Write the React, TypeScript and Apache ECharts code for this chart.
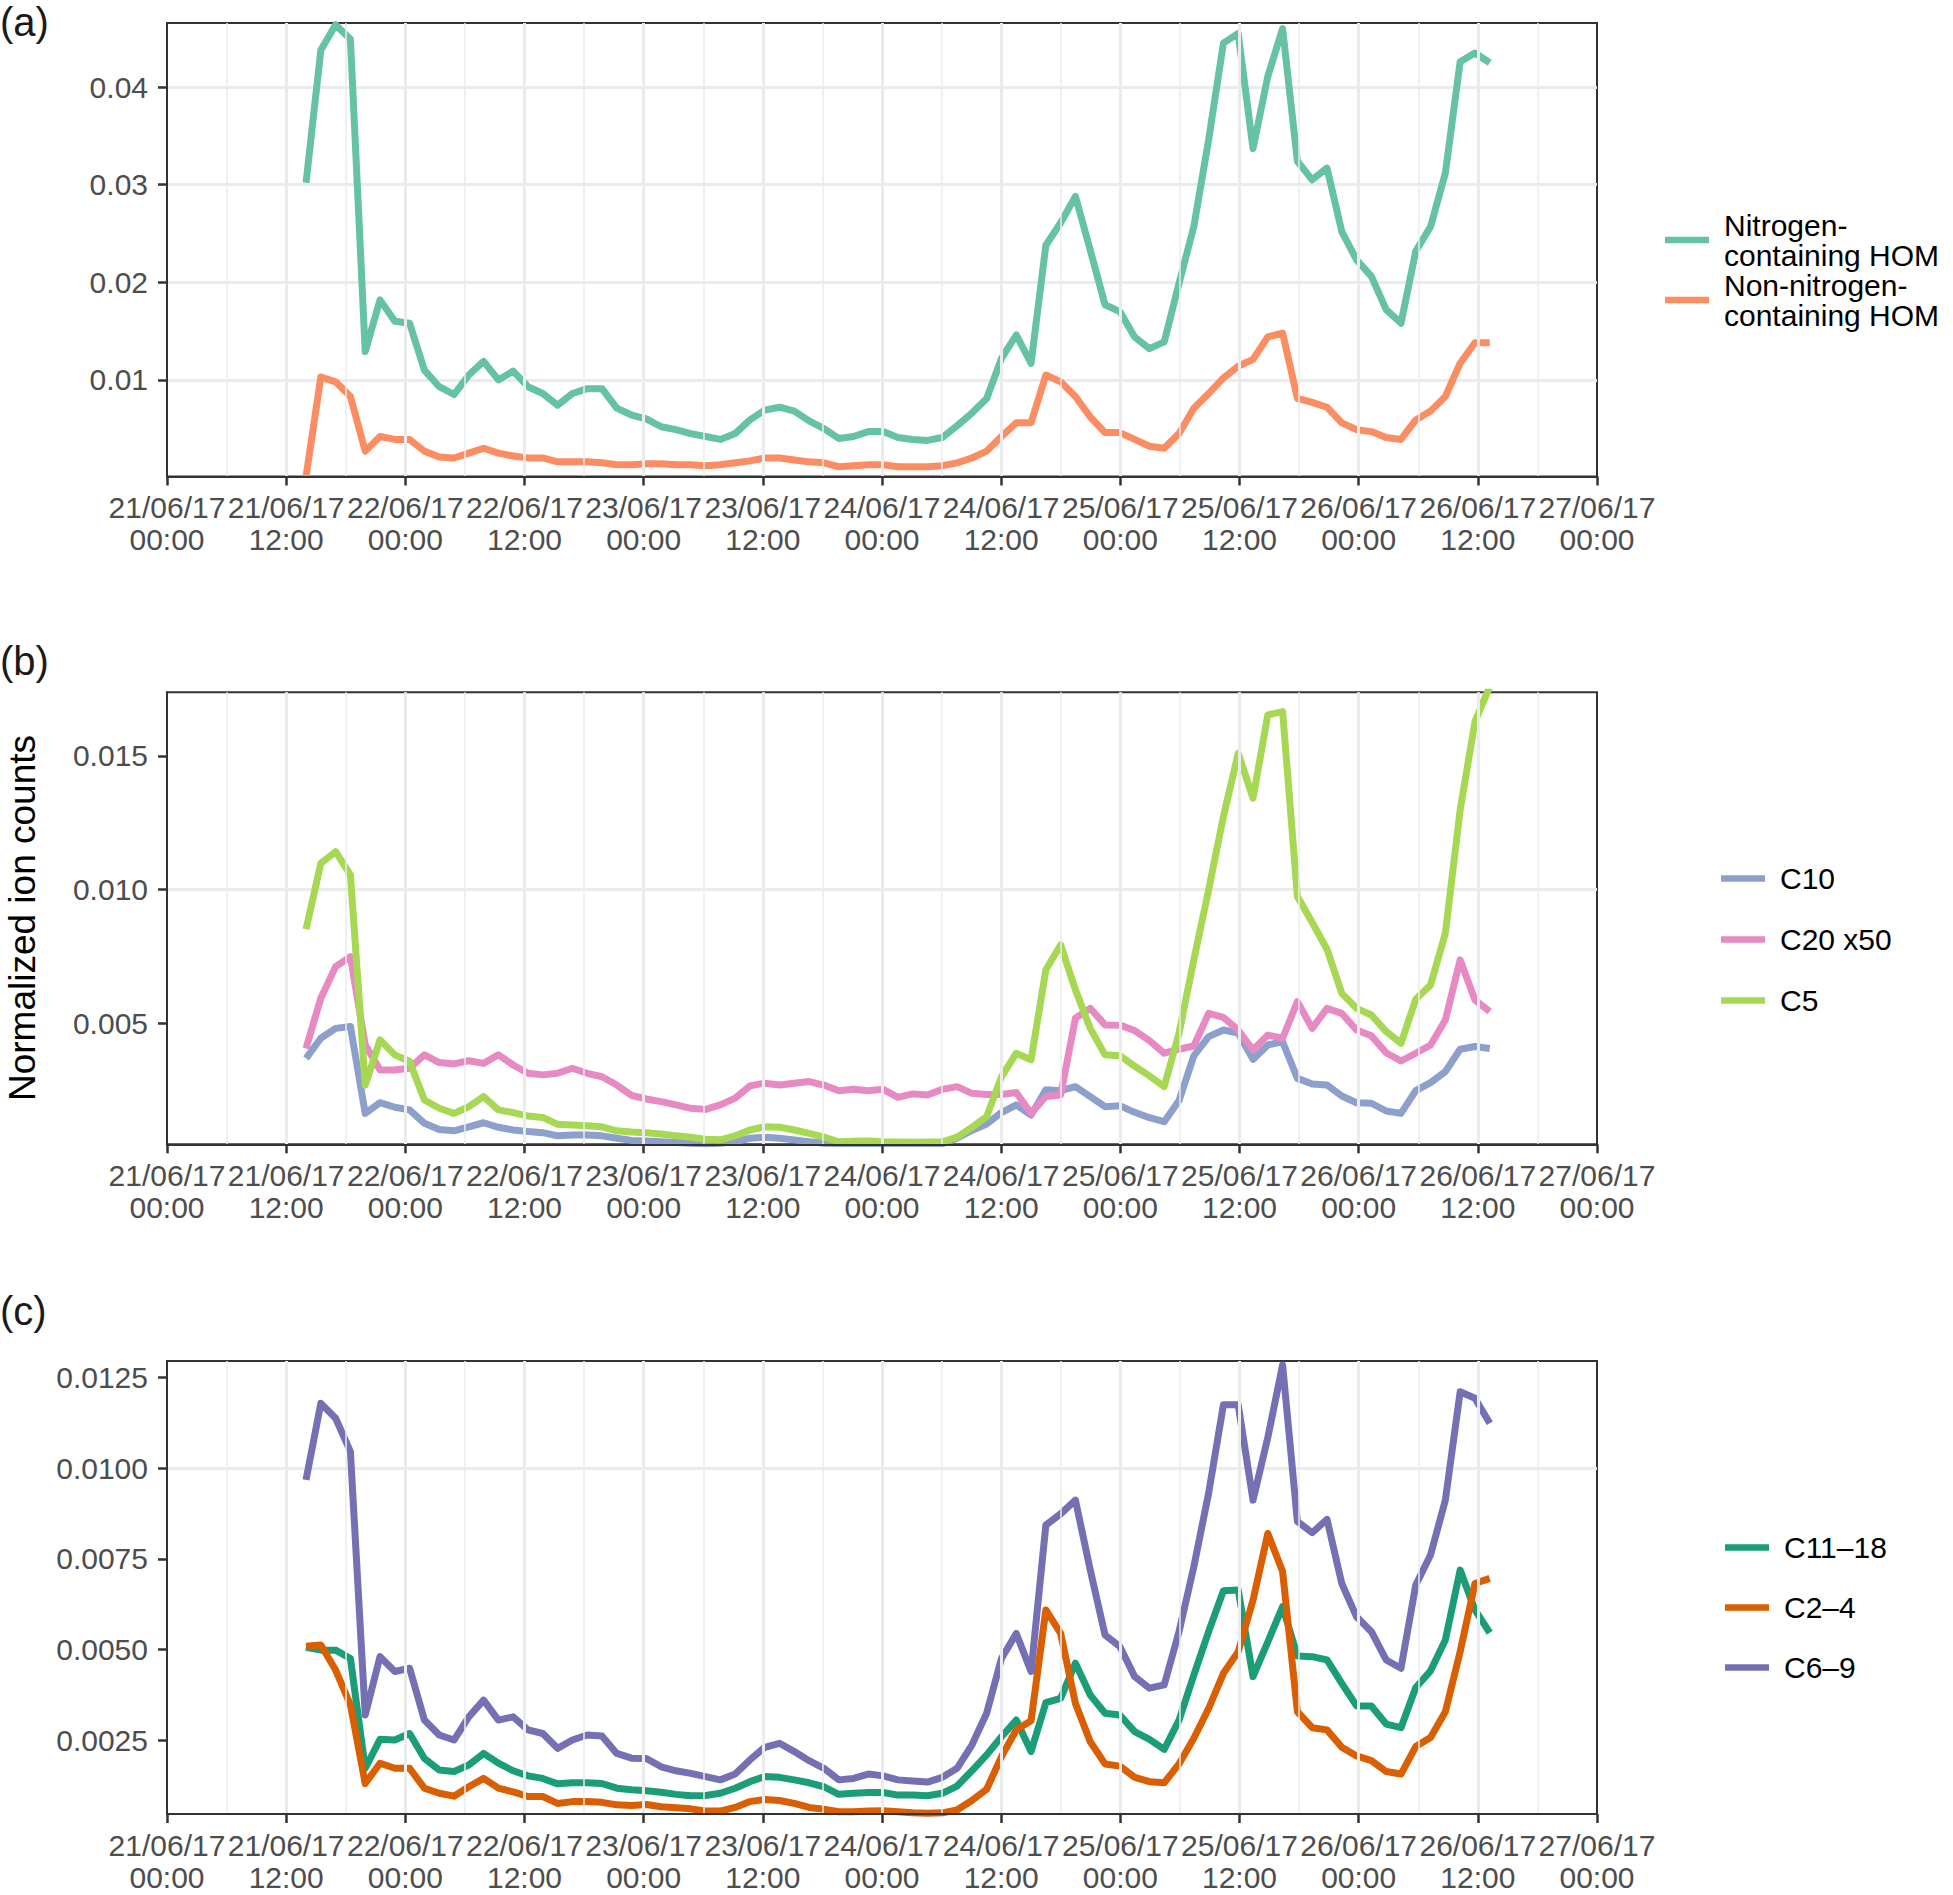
import React, { useEffect, useRef } from "react";
import * as echarts from "echarts";

// Time grid: first sample 21/06/17 14:00 (hours counted from 21/06/17 00:00)
const START_HOUR = 14;
const STEP_HOURS = 1.49;
const X_MIN_HOUR = 0;
const X_MAX_HOUR = 144;
const X_TICK_HOURS = 12;
const FIRST_DAY = 21;

// ---------- Panel (a) ----------
const N_HOM = [
  0.0302, 0.0438, 0.0464, 0.0449, 0.0129, 0.0182, 0.016, 0.0158, 0.011, 0.0093, 0.0085, 0.0105, 0.0119, 0.01, 0.0109, 0.0093, 0.0086, 0.0074, 0.0086, 0.0091, 0.0091, 0.0071, 0.0064,
  0.006, 0.0052, 0.0049, 0.0045, 0.0042, 0.0039, 0.0045, 0.0059, 0.0069, 0.0072, 0.0068, 0.0058, 0.005, 0.004, 0.0042, 0.0047, 0.0047, 0.0041, 0.0039, 0.0038, 0.0041, 0.0053, 0.0066, 0.0081, 0.0122, 0.0146, 0.0117, 0.0238, 0.0261, 0.0288, 0.0233, 0.0177,
  0.017, 0.0144, 0.0132, 0.0139, 0.0199, 0.0257, 0.0346, 0.0445, 0.0455, 0.0337, 0.0411, 0.046, 0.0324, 0.0305, 0.0317, 0.0252, 0.0223, 0.0206, 0.0172, 0.0158, 0.0232, 0.0257, 0.0312, 0.0426, 0.0435, 0.0425,
];
const NON_N_HOM = [
  0.0001, 0.0103, 0.0098, 0.0083, 0.0027, 0.0042, 0.0039, 0.0039, 0.0027, 0.0021, 0.002, 0.0025, 0.003, 0.0025, 0.0022, 0.002, 0.002, 0.0016, 0.0016, 0.0016, 0.0015, 0.0013, 0.0013,
  0.0014, 0.0014, 0.0013, 0.0013, 0.0012, 0.0013, 0.0015, 0.0017, 0.002, 0.002, 0.0018, 0.0016, 0.0015, 0.0011, 0.0012, 0.0013, 0.0013, 0.0011, 0.0011, 0.0011, 0.0012, 0.0015, 0.002, 0.0027, 0.0042, 0.0056, 0.0056, 0.0105, 0.0098, 0.0083, 0.0062, 0.0046,
  0.0046, 0.0039, 0.0032, 0.003, 0.0045, 0.0071, 0.0086, 0.0102, 0.0114, 0.0121, 0.0144, 0.0148, 0.0081, 0.0077, 0.0072, 0.0056, 0.0049, 0.0047, 0.0041, 0.0039, 0.0059, 0.0068, 0.0083, 0.0117, 0.0138, 0.0138,
];
const A_Y_RANGE = [0.0001, 0.04657];
const A_TICKS = [0.01, 0.02, 0.03, 0.04];
const A_MINOR = [0.005, 0.015, 0.025, 0.035, 0.045];

// ---------- Panel (b) ----------
const C10 = [
  0.00369, 0.00444, 0.00481, 0.00488, 0.00163, 0.00203, 0.00186, 0.00176, 0.00126, 0.00103, 0.00098, 0.00113, 0.00128, 0.00111, 0.00101, 0.00095, 0.00091, 0.00079, 0.00082, 0.00082, 0.00079, 0.0007, 0.00062,
  0.0006, 0.00057, 0.00054, 0.00051, 0.00049, 0.00051, 0.00057, 0.0007, 0.00074, 0.0007, 0.00064, 0.00057, 0.00051, 0.0005, 0.0005, 0.0005, 0.0005, 0.0005, 0.0005, 0.0005, 0.0005, 0.0007, 0.00099, 0.00123, 0.00166, 0.00195, 0.00157, 0.00251, 0.00248, 0.00263, 0.00226, 0.00188,
  0.00192, 0.00167, 0.00147, 0.00132, 0.00211, 0.00378, 0.0045, 0.00475, 0.00463, 0.00365, 0.00419, 0.00431, 0.00294, 0.00273, 0.00269, 0.00228, 0.00203, 0.00201, 0.00172, 0.00163, 0.00248, 0.00278, 0.00319, 0.00403, 0.00413, 0.00406,
];
const C20_X50 = [
  0.00406, 0.00594, 0.00712, 0.00749, 0.0042, 0.00325, 0.00325, 0.00332, 0.00382, 0.00353, 0.00348, 0.0036, 0.0035, 0.00382, 0.00344, 0.00313, 0.00307, 0.00313, 0.00332, 0.00313, 0.003, 0.00269, 0.0023,
  0.00217, 0.00207, 0.00195, 0.00182, 0.00178, 0.00195, 0.0022, 0.00266, 0.00276, 0.00269, 0.00276, 0.00282, 0.00269, 0.00248, 0.00253, 0.00248, 0.00253, 0.00223, 0.00236, 0.00232, 0.00253, 0.00263, 0.00238, 0.00234, 0.00234, 0.00241, 0.00163, 0.00226, 0.00232, 0.00519, 0.00556, 0.00494,
  0.00493, 0.00473, 0.00435, 0.00388, 0.00403, 0.00415, 0.00537, 0.00522, 0.00475, 0.004, 0.00456, 0.00444, 0.00581, 0.00481, 0.00556, 0.00537, 0.00475, 0.00453, 0.0039, 0.00359, 0.00388, 0.00419, 0.00512, 0.00737, 0.00587, 0.00544,
];
const C5 = [
  0.00852, 0.01099, 0.01142, 0.01055, 0.00269, 0.00438, 0.00382, 0.00357, 0.00213, 0.00182, 0.00163, 0.00188, 0.00226, 0.00176, 0.00166, 0.00153, 0.00148, 0.00122, 0.0012, 0.00117, 0.00113, 0.00098, 0.00093,
  0.00091, 0.00086, 0.00079, 0.00074, 0.00066, 0.00064, 0.00079, 0.00101, 0.00113, 0.00111, 0.00101, 0.00088, 0.00074, 0.00057, 0.00059, 0.0006, 0.00057, 0.00056, 0.00055, 0.00056, 0.00057, 0.00074, 0.00111, 0.00151, 0.003, 0.00388, 0.00363, 0.007, 0.00793, 0.00625, 0.00481, 0.00382,
  0.00379, 0.0034, 0.00303, 0.00263, 0.00463, 0.00737, 0.00999, 0.01273, 0.0151, 0.01342, 0.01653, 0.01666, 0.00974, 0.00877, 0.00777, 0.00612, 0.00556, 0.00531, 0.00469, 0.00425, 0.0059, 0.00643, 0.00837, 0.01298, 0.01628, 0.0176,
];
const B_Y_RANGE = [0.000474, 0.01738];
const B_TICKS = [0.005, 0.01, 0.015];
const B_MINOR = [0.0025, 0.0075, 0.0125];

// ---------- Panel (c) ----------
const C11_18 = [
  0.00506, 0.00498, 0.00498, 0.00475, 0.00172, 0.00252, 0.0025, 0.00268, 0.00199, 0.00167, 0.00163, 0.00181, 0.00213, 0.00186, 0.00165, 0.00151, 0.00144, 0.00129, 0.00132, 0.00132, 0.0013, 0.00117, 0.00113,
  0.0011, 0.00106, 0.001, 0.00096, 0.00097, 0.00103, 0.00117, 0.00135, 0.00149, 0.00147, 0.0014, 0.00132, 0.00121, 0.001, 0.00103, 0.00105, 0.00105, 0.00098, 0.00098, 0.00096, 0.00103, 0.00123, 0.00165, 0.00209, 0.00259, 0.00305, 0.00218, 0.00353, 0.00365, 0.00462, 0.00374, 0.00324,
  0.00319, 0.00273, 0.00252, 0.00224, 0.00305, 0.00429, 0.00549, 0.00662, 0.00664, 0.00425, 0.00521, 0.00618, 0.00482, 0.0048, 0.00471, 0.00406, 0.00344, 0.00344, 0.00294, 0.00284, 0.00395, 0.00441, 0.00526, 0.00719, 0.00609, 0.00546,
];
const C2_4 = [
  0.00509, 0.00512, 0.00443, 0.00347, 0.0013, 0.00186, 0.00172, 0.00172, 0.00117, 0.00103, 0.00095, 0.00121, 0.00144, 0.00117, 0.00107, 0.00094, 0.00094, 0.00075, 0.0008, 0.0008, 0.00078, 0.00071, 0.00069,
  0.00072, 0.00066, 0.00063, 0.0006, 0.00054, 0.00054, 0.00064, 0.0008, 0.00086, 0.00083, 0.00075, 0.00064, 0.00059, 0.00052, 0.00052, 0.00054, 0.00055, 0.00052, 0.00049, 0.00048, 0.00049, 0.00057, 0.00083, 0.00114, 0.00204, 0.00278, 0.00303, 0.00609, 0.00544, 0.00351, 0.00245, 0.00184,
  0.00178, 0.00147, 0.00135, 0.00132, 0.00184, 0.00255, 0.00337, 0.00434, 0.00494, 0.00636, 0.0082, 0.00715, 0.00328, 0.00284, 0.00278, 0.0023, 0.00206, 0.00193, 0.00163, 0.00156, 0.00232, 0.00257, 0.00328, 0.00494, 0.00682, 0.00696,
];
const C6_9 = [
  0.00968, 0.01179, 0.01138, 0.01046, 0.00319, 0.0048, 0.00439, 0.00448, 0.00305, 0.00264, 0.0025, 0.00314, 0.0036, 0.00305, 0.00314, 0.00278, 0.00268, 0.00227, 0.0025, 0.00264, 0.00261, 0.00213, 0.002,
  0.00199, 0.00176, 0.00165, 0.00158, 0.00149, 0.0014, 0.00156, 0.00195, 0.0023, 0.00241, 0.00218, 0.00193, 0.00172, 0.0014, 0.00144, 0.00156, 0.00151, 0.0014, 0.00137, 0.00134, 0.00147, 0.00172, 0.00236, 0.00324, 0.00475, 0.00544, 0.00439, 0.00843, 0.00874, 0.00912, 0.00719, 0.0054,
  0.00508, 0.00425, 0.00393, 0.00402, 0.00549, 0.00728, 0.00931, 0.01175, 0.01175, 0.00912, 0.01085, 0.01285, 0.00853, 0.00822, 0.00859, 0.00682, 0.0059, 0.00549, 0.00471, 0.00448, 0.00678, 0.00761, 0.00912, 0.01211, 0.01193, 0.01124,
];
const C_Y_RANGE = [0.000458, 0.01296];
const C_TICKS = [0.0025, 0.005, 0.0075, 0.01, 0.0125];
const C_MINOR = [0.00125, 0.00375, 0.00625, 0.00875, 0.01125];

const FONT = "'Liberation Sans', Arial, Helvetica, sans-serif";
const TICK_COLOR = "#333333";
const LABEL_COLOR = "#4D4D4D";
const GRID_COLOR = "#EBEBEB";
const LINE_WIDTH = 7;

function toPairs(values: number[]) {
  return values.map((v, i) => [START_HOUR + STEP_HOURS * i, v]);
}

function xLabel(v: number) {
  const day = FIRST_DAY + Math.floor(v / 24);
  const hour = v % 24;
  const hh = String(hour).padStart(2, "0");
  return `${day}/06/17\n${hh}:00`;
}

const GRIDS = [
  { left: 167, top: 23, width: 1430, height: 453.5 },
  { left: 167, top: 692.3, width: 1430, height: 452 },
  { left: 167, top: 1361, width: 1430, height: 453 },
];

function makeXAxis(gridIndex: number) {
  return {
    type: "value",
    gridIndex,
    min: X_MIN_HOUR,
    max: X_MAX_HOUR,
    interval: X_TICK_HOURS,
    z: 5,
    axisLine: { show: true, onZero: false, lineStyle: { color: TICK_COLOR, width: 2 } },
    axisTick: { show: true, length: 9, lineStyle: { color: TICK_COLOR, width: 2.5 } },
    axisLabel: {
      formatter: xLabel,
      fontSize: 30,
      lineHeight: 32,
      color: LABEL_COLOR,
      margin: 15,
      fontFamily: FONT,
      hideOverlap: false,
    },
    splitLine: {
      show: true,
      showMinLine: false,
      showMaxLine: false,
      lineStyle: { color: GRID_COLOR, width: 3 },
    },
    minorTick: { show: false, splitNumber: 2 },
    minorSplitLine: { show: true, lineStyle: { color: GRID_COLOR, width: 1.5 } },
  };
}

function makeYAxis(gridIndex: number, range: number[], ticks: number[], decimals: number) {
  const step = ticks[1] - ticks[0];
  return {
    type: "value",
    gridIndex,
    min: range[0],
    max: range[1],
    minInterval: step,
    maxInterval: step,
    z: 5,
    axisLine: { show: true, onZero: false, lineStyle: { color: TICK_COLOR, width: 2 } },
    axisTick: {
      show: true,
      length: 9,
      lineStyle: { color: TICK_COLOR, width: 2.5 },
      customValues: ticks,
    },
    axisLabel: {
      customValues: ticks,
      formatter: (v: number) => v.toFixed(decimals),
      fontSize: 30,
      color: LABEL_COLOR,
      margin: 19,
      fontFamily: FONT,
    },
    splitLine: { show: false },
  };
}

function gridLines(major: number[], minor: number[]) {
  return {
    silent: true,
    symbol: ["none", "none"],
    z: 1,
    animation: false,
    label: { show: false },
    emphasis: { disabled: true },
    data: [
      ...major.map((v) => ({ yAxis: v, lineStyle: { color: GRID_COLOR, width: 3, type: "solid" } })),
      ...minor.map((v) => ({ yAxis: v, lineStyle: { color: GRID_COLOR, width: 1.5, type: "solid" } })),
    ],
  };
}

function lineSeries(name: string, values: number[], color: string, idx: number, extra: any = {}) {
  return {
    type: "line",
    name,
    xAxisIndex: idx,
    yAxisIndex: idx,
    data: toPairs(values),
    symbol: "none",
    showSymbol: false,
    clip: true,
    z: 3,
    itemStyle: { color },
    lineStyle: { color, width: LINE_WIDTH, join: "round", cap: "butt" },
    emphasis: { disabled: true },
    ...extra,
  };
}

function legend(names: string[], left: number, top: number, itemGap: number, lineHeight: number) {
  return {
    data: names,
    orient: "vertical",
    left,
    top,
    icon: "rect",
    itemWidth: 44,
    itemHeight: 6.5,
    itemGap,
    selectedMode: false,
    padding: 0,
    itemStyle: { borderWidth: 0 },
    textStyle: {
      fontSize: 30,
      lineHeight,
      color: "#000000",
      fontFamily: FONT,
      padding: [0, 0, 0, 10],
    },
  };
}

export default function App() {
  const ref = useRef<HTMLDivElement>(null);

  useEffect(() => {
    if (!ref.current) return;
    const chart = echarts.init(ref.current, undefined, { renderer: "svg" });

    const nameN = "Nitrogen-\ncontaining HOM";
    const nameNon = "Non-nitrogen-\ncontaining HOM";

    const option: any = {
      animation: false,
      backgroundColor: "#FFFFFF",
      textStyle: { fontFamily: FONT },
      grid: GRIDS.map((g) => ({
        ...g,
        show: true,
        borderColor: TICK_COLOR,
        borderWidth: 2,
        backgroundColor: "transparent",
        containLabel: false,
      })),
      xAxis: [makeXAxis(0), makeXAxis(1), makeXAxis(2)],
      yAxis: [
        makeYAxis(0, A_Y_RANGE, A_TICKS, 2),
        makeYAxis(1, B_Y_RANGE, B_TICKS, 3),
        makeYAxis(2, C_Y_RANGE, C_TICKS, 4),
      ],
      legend: [
        legend([nameN, nameNon], 1665, 210, 0, 30),
        legend(["C10", "C20 x50", "C5"], 1721, 863, 30, 31),
        legend(["C11\u201318", "C2\u20134", "C6\u20139"], 1725, 1532, 29, 31),
      ],
      series: [
        lineSeries(nameN, N_HOM, "#66C2A5", 0, { markLine: gridLines(A_TICKS, A_MINOR) }),
        lineSeries(nameNon, NON_N_HOM, "#FC8D62", 0),
        lineSeries("C10", C10, "#8DA0CB", 1, { markLine: gridLines(B_TICKS, B_MINOR) }),
        lineSeries("C20 x50", C20_X50, "#E78AC3", 1),
        lineSeries("C5", C5, "#A6D854", 1),
        lineSeries("C11\u201318", C11_18, "#1B9E77", 2, { markLine: gridLines(C_TICKS, C_MINOR) }),
        lineSeries("C2\u20134", C2_4, "#D95F02", 2),
        lineSeries("C6\u20139", C6_9, "#7570B3", 2),
      ],
      graphic: [
        {
          type: "text",
          left: 0,
          top: 2,
          style: { text: "(a)", fontSize: 40, fill: "#1A1A1A", fontFamily: FONT },
        },
        {
          type: "text",
          left: 0,
          top: 641,
          style: { text: "(b)", fontSize: 40, fill: "#1A1A1A", fontFamily: FONT },
        },
        {
          type: "text",
          left: 0,
          top: 1291,
          style: { text: "(c)", fontSize: 40, fill: "#1A1A1A", fontFamily: FONT },
        },
        {
          type: "text",
          x: 22,
          y: 918,
          rotation: Math.PI / 2,
          style: {
            text: "Normalized ion counts",
            fontSize: 37,
            fill: "#000000",
            fontFamily: FONT,
            align: "center",
            verticalAlign: "middle",
          },
        },
      ],
    };

    chart.setOption(option);
    return () => chart.dispose();
  }, []);

  return (
    <div
      ref={ref}
      style={{ position: "absolute", left: 0, top: 0, width: 1953, height: 1895, background: "#fff" }}
    />
  );
}
